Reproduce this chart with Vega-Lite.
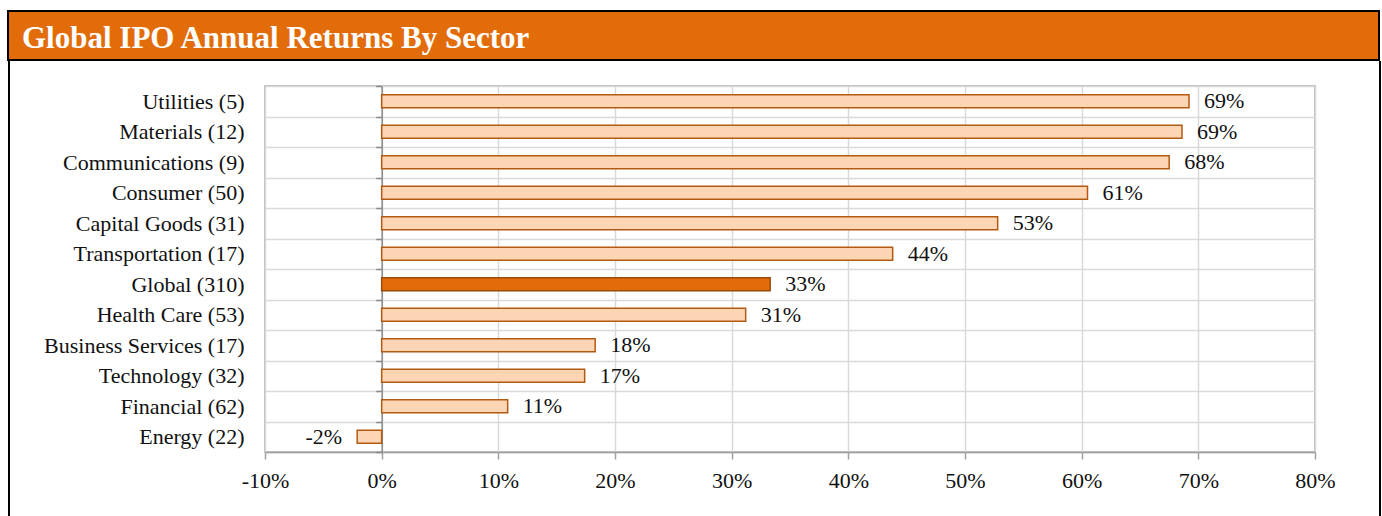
{
  "$schema": "https://vega.github.io/schema/vega-lite/v6.json",
  "background": "white",
  "padding": {"left": 7, "top": 10, "right": 0, "bottom": 0},
  "spacing": 0,
  "config": {
    "view": {"stroke": null},
    "font": "Liberation Serif"
  },
  "vconcat": [
    {
      "width": 1371,
      "height": 49,
      "view": {"fill": "#E36C0A", "stroke": "black", "strokeWidth": 2},
      "title": {
        "text": "Global IPO Annual Returns By Sector",
        "anchor": "start",
        "frame": "group",
        "offset": -44,
        "dx": 14,
        "font": "Liberation Serif",
        "fontSize": 31,
        "fontWeight": "bold",
        "color": "white"
      },
      "data": {"values": []},
      "mark": "text",
      "encoding": {}
    },
    {
      "spacing": -12,
      "vconcat": [
        {
          "bounds": "flush",
          "spacing": 0,
          "hconcat": [
            {"width": 2, "height": 25, "view": {"fill": "black", "stroke": null}, "data": {"values": []}, "mark": "text", "encoding": {}},
            {"width": 1369, "height": 25, "data": {"values": []}, "mark": "text", "encoding": {}},
            {"width": 2, "height": 25, "view": {"fill": "black", "stroke": null}, "data": {"values": []}, "mark": "text", "encoding": {}}
          ]
        },
        {
          "bounds": "flush",
          "spacing": 64,
          "hconcat": [
            {"width": 2, "height": 440, "view": {"fill": "black", "stroke": null}, "data": {"values": []}, "mark": "text", "encoding": {}},
            {"width": 127, "height": 10, "data": {"values": []}, "mark": "text", "encoding": {}},
            {
              "width": 1050,
              "height": 366,
              "view": {"stroke": "#a6a6a6", "strokeWidth": 1.5},
              "data": {
                "values": [
                  {"sector": "Utilities (5)", "value": 69.2, "label": "69%"},
                  {"sector": "Materials (12)", "value": 68.6, "label": "69%"},
                  {"sector": "Communications (9)", "value": 67.5, "label": "68%"},
                  {"sector": "Consumer (50)", "value": 60.5, "label": "61%"},
                  {"sector": "Capital Goods (31)", "value": 52.8, "label": "53%"},
                  {"sector": "Transportation (17)", "value": 43.8, "label": "44%"},
                  {"sector": "Global (310)", "value": 33.3, "label": "33%"},
                  {"sector": "Health Care (53)", "value": 31.2, "label": "31%"},
                  {"sector": "Business Services (17)", "value": 18.3, "label": "18%"},
                  {"sector": "Technology (32)", "value": 17.4, "label": "17%"},
                  {"sector": "Financial (62)", "value": 10.8, "label": "11%"},
                  {"sector": "Energy (22)", "value": -2.1, "label": "-2%"}
                ]
              },
              "encoding": {
                "x": {
                  "field": "value",
                  "type": "quantitative",
                  "scale": {"domain": [-10, 80], "nice": false, "zero": false},
                  "axis": {
                    "title": null,
                    "values": [-10, 0, 10, 20, 30, 40, 50, 60, 70, 80],
                    "labelExpr": "datum.value + '%'",
                    "grid": true,
                    "gridColor": "#d9d9d9",
                    "gridWidth": 1.5,
                    "domainColor": "#a0a0a0",
                    "domainWidth": 1.5,
                    "tickColor": "#a0a0a0",
                    "tickWidth": 1.5,
                    "tickSize": 7,
                    "labelPadding": 11,
                    "labelFlush": false,
                    "labelFont": "Liberation Serif",
                    "labelFontSize": 22,
                    "labelColor": "#111111"
                  }
                }
              },
              "resolve": {"axis": {"y": "independent"}},
              "layer": [
                {
                  "mark": {"type": "bar", "height": {"band": 0.42}, "strokeWidth": 1.5},
                  "encoding": {
                    "y": {
                      "field": "sector",
                      "type": "nominal",
                      "sort": null,
                      "scale": {"paddingInner": 0, "paddingOuter": 0},
                      "axis": {
                        "orient": "left",
                        "title": null,
                        "ticks": false,
                        "domain": false,
                        "grid": true,
                        "tickBand": "extent",
                        "gridColor": "#d9d9d9",
                        "gridWidth": 1.5,
                        "labelPadding": 21,
                        "labelLimit": 0,
                        "labelFont": "Liberation Serif",
                        "labelFontSize": 22,
                        "labelColor": "#111111"
                      }
                    },
                    "fill": {
                      "condition": {"test": "datum.sector === 'Global (310)'", "value": "#E36C0A"},
                      "value": "#FCD5B4"
                    },
                    "stroke": {
                      "condition": {"test": "datum.sector === 'Global (310)'", "value": "#9C4A0C"},
                      "value": "#B35A12"
                    }
                  }
                },
                {
                  "transform": [{"filter": "datum.value >= 0"}],
                  "mark": {"type": "text", "align": "left", "baseline": "middle", "dx": 15, "font": "Liberation Serif", "fontSize": 22, "color": "#111111"},
                  "encoding": {
                    "y": {
                      "field": "sector",
                      "type": "nominal",
                      "sort": null,
                      "axis": {
                        "orient": "left",
                        "offset": -116.67,
                        "title": null,
                        "labels": false,
                        "grid": false,
                        "ticks": true,
                        "tickBand": "extent",
                        "tickSize": 6,
                        "tickWidth": 1.5,
                        "tickColor": "#8a8a8a",
                        "domain": true,
                        "domainColor": "#8a8a8a",
                        "domainWidth": 1.5
                      }
                    },
                    "text": {"field": "label"}
                  }
                },
                {
                  "transform": [{"filter": "datum.value < 0"}],
                  "mark": {"type": "text", "align": "right", "baseline": "middle", "dx": -15, "font": "Liberation Serif", "fontSize": 22, "color": "#111111"},
                  "encoding": {
                    "y": {"field": "sector", "type": "nominal", "sort": null, "axis": null},
                    "text": {"field": "label"}
                  }
                }
              ]
            },
            {"width": 2, "height": 440, "view": {"fill": "black", "stroke": null}, "data": {"values": []}, "mark": "text", "encoding": {}}
          ]
        }
      ]
    }
  ]
}
